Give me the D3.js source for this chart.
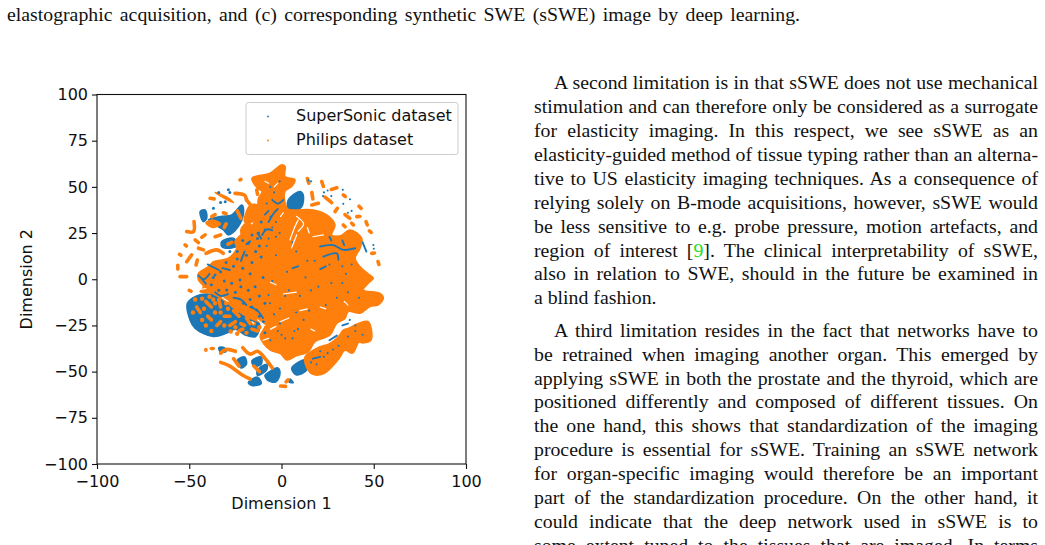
<!DOCTYPE html>
<html>
<head>
<meta charset="utf-8">
<script src="https://cdn.jsdelivr.net/npm/d3@7"></script>
<style>
html, body { margin: 0; padding: 0; background: #fff; overflow: hidden; }
</style>
</head>
<body>
<div id="page"></div>
<script>
// values, all in data units (Dimension 1, Dimension 2)
var seriesNames = ["SuperSonic dataset", "Philips dataset"];
var seriesColors = ["#1f77b4", "#ff7f0e"];
var yTickValues = [-100, -75, -50, -25, 0, 25, 50, 75, 100];
var xTickValues = [-100, -50, 0, 50, 100];

// solid patches where the SuperSonic points pile up
var supersonicRegions = [
	[[-51,-13],[-46,-9],[-40,-8],[-30,-11],[-20,-20],[-12,-24],[-14,-31],[-20,-30],[-25,-27],[-30,-29.3],[-37,-31],[-46.8,-26.6],[-49.6,-22]],
	[[3.7,43],[10,47.5],[11.8,45.6],[11,39.3],[8.2,37.5],[3.7,38.4]],
	[[-44.1,36.6],[-41.4,37.5],[-40.5,33],[-42.3,31.2]],
	[[-27,34.8],[-21.5,40.2],[-20.6,35.7],[-23.4,28.5],[-28.8,24],[-31.5,26.7],[-36,29.4],[-39.6,32.1],[-33,34]],
	[[-32.4,20.4],[-26.1,22.2],[-23.4,18.6],[-27.9,16.8],[-32.4,17.7]],
	[[5.5,-48.2],[12.8,-43.7],[13.7,-49.1],[8.2,-51.8]],
	[[-6.5,-50],[-2,-48],[-0.8,-51],[-3,-55.5],[-7,-55],[-9,-52]],
	[[-13,-49],[-8,-46],[-8,-49],[-13,-52]],
	[[-18,-56],[-13,-53],[-11,-56.5],[-16,-57.5]],
	[[-24,-44],[-20,-42],[-19,-46],[-22,-48]],
	[[-16,-44],[-11,-42],[-11,-46],[-15,-47]],
	[[-34,-37],[-31,-37],[-30,-39],[-33,-39.5]],
	[[4.6,-54],[6.4,-56],[4,-55.5]],
	[[12,-46],[16,-40],[14,-44]]
];
// the bulk of the Philips points
var philipsRegions = [
	[[-16,54.7],[-6.2,57.4],[0,61.9],[2,61],[1.9,55.6],[7.3,53.8],[5.5,50.2],[1.9,47.5],[2,41],[3.5,38],[6.4,37.5],[17.3,37.5],[24.5,34.8],[29,29.4],[27.2,24],[32,23.5],[37.1,26.7],[43.5,22.2],[42.6,16.8],[39.9,11.4],[42.6,6.8],[47,3],[49.8,0.5],[47,-2.2],[44.4,-5.8],[53.4,-7.6],[55.2,-10.3],[52.5,-13.9],[48,-14.8],[42.6,-18.4],[36.2,-17.5],[34.4,-21.2],[29.9,-23.9],[26.3,-30.2],[18.2,-33.8],[14.6,-39.2],[8,-41.5],[2.8,-43.7],[-0.8,-40.1],[-6.2,-38.3],[-11.6,-31.1],[-9,-25],[-17,-21.2],[-24.3,-16.7],[-31.5,-11.2],[-37.8,-7.6],[-44.1,-6.7],[-42.3,-4],[-45,-0.4],[-45,3.2],[-39.6,6.8],[-36.9,9.5],[-28.8,11.4],[-24.3,16.8],[-25.2,20.4],[-18.8,26.7],[-15,30.3],[-14,35.7],[-13,37.5],[-12.5,43.8],[-10.5,47.5],[-13,49.3]],
	[[12.8,-41.9],[19,-37.4],[26.3,-34.7],[30.8,-31.1],[33.5,-27.5],[36.2,-26.6],[41.7,-23.9],[47.1,-23],[48.5,-33],[44,-34.5],[42,-34],[38.5,-40],[34.4,-38.5],[30.8,-43.5],[22.7,-51.2],[16.4,-51.2],[12.8,-45.5]],
	[[-41,30.5],[-37,28],[-33,30],[-37,32]],
	[[-36,47],[-33,45],[-26,41.5],[-29,44]],
	[[-20,31],[-14,32],[-13,40],[-17,40]],
	[[-21,23],[-16,27],[-18,31],[-22,27]]
];
// thin strands and small islands of Philips points around the main body
var philipsStrands = [
	[[-33,-40],[-30,-38],[-25,-39]],
	[[-33,-45],[-28,-47],[-21,-52],[-17,-54]],
	[[-21,-37],[-17,-40.5],[-13,-39],[-8,-44],[-5,-48]],
	[[-15,-47],[-12,-50]],
	[[-26,-43],[-23,-47]],
	[[-41,-38],[-41,-38.4]],
	[[-38,-37.5],[-37,-37.5]],
	[[-47.4,31.2],[-47.7,25.8],[-51.4,25.8]],
	[[-46.8,21.3],[-45,19.8]],
	[[-43.2,22.7],[-41.4,24]],
	[[-52.3,18.6],[-51.5,18]],
	[[-45,16.8],[-42.3,15.9]],
	[[-40.9,14],[-35.1,15.9],[-31.5,14]],
	[[-48.7,13.2],[-51.4,9.5]],
	[[-55.3,13.5],[-54.5,13]],
	[[-46.3,7.7],[-45.6,10.4]],
	[[-56.2,7.5],[-56.2,5.5]],
	[[-55,1.4],[-51.4,1.4]],
	[[-50,-6],[-49,-6.5]],
	[[-38.7,43.8],[-36.5,43.5]],
	[[-25.2,46.5],[-20,45.5],[-19,43]],
	[[-22.5,53.8],[-22,54]],
	[[-13.4,48.4],[-13,46]],
	[[-31.5,36],[-30,35.5]],
	[[-37.8,33.9],[-36,35]],
	[[-19,43],[-15,38]],
	[[14,54.5],[14.8,52]],
	[[21.8,52.9],[22.7,50.2]],
	[[27,48.6],[30,49.5]],
	[[33.5,45.6],[34.6,44.8]],
	[[16.4,47],[17,43.5]],
	[[16.4,40.2],[20,41.1]],
	[[23.6,44.5],[27.2,41.5]],
	[[42,39.5],[43.2,38.4]],
	[[29,36.6],[30.3,38.4]],
	[[34.4,35],[37,33]],
	[[40.8,33.9],[42.5,34]],
	[[38,30.3],[39,29.4]],
	[[33.5,29.4],[34.5,28.4]],
	[[45.8,31.2],[46.5,29.4]],
	[[47.6,26.2],[48.6,25.4]],
	[[48.9,14],[50.4,14.2]],
	[[52.3,9.6],[52.8,8]],
	[[-0.5,-57.8],[2.2,-58]],
	[[2.5,-55.5],[3.5,-54.5]],
	// short islands lying over the SuperSonic patch, lower left
	[[-46,-15],[-44,-18]],
	[[-41,-12],[-38,-15]],
	[[-40,-20],[-38,-22]],
	[[-34,-11],[-33,-15]],
	[[-31,-20],[-28,-20]],
	[[-35,-25],[-33,-23]],
	[[-28,-25],[-25,-23]],
	[[-26,-17],[-23,-20]],
	[[-19,-21],[-17,-24]],
	[[-22,-24],[-20,-25]],
	[[-23,-28],[-21,-27]],
	[[-16,-27],[-13,-28]],
	[[-29,19],[-27,20]],
	[[-36,23],[-33,24]],
	[[-31,28],[-30,30]],
	[[-24,37],[-22,33]]
];
var philipsPoints = [
	[-43,-10.5],[-46.8,-11],[-39,-9.5],[-37,-11],[-30,-13],[-41,-25],[-38,-28],[-48,-18],[-25,-26],[-27.5,-28.3],[-24,-29.5],[-19,-29],[12,-39.5],
	[-42,-16],[-36,-18],[-33,-18],[-29,-16],[-24,-17],[-31,-25],[-43,-22],[-15,-24],[-12,-26],[-36,-13]
];
// SuperSonic points showing through the gaps in the orange
var supersonicStrands = [
	[[20.9,17.7],[28,18.5],[33.5,15.9],[39.9,16.8]],
	[[22.7,12.3],[30,14],[30.8,10.5]],
	[[26,23],[27,21]],
	[[33,21],[34,18.5]],
	[[-40,8],[-34,5]],
	[[-7,31],[-4,36],[-2,38]],
	[[-5,43],[-2,41],[1,43]],
	[[-9,35],[-7,37]],
	[[-32,6],[-28,5]],
	[[-45,2],[-42,0],[-39,3]],
	[[-43,0],[-41,-2.5]],
	[[-22,10],[-20,15]],
	[[-10.5,24],[-8,27],[-5,26.5]],
	[[6,6],[9,7]],
	[[21,5.5],[24,7]],
	[[-19,19],[-17,20.5]],
	[[44,20],[46,15]],
	[[26,-33],[30,-30.5]],
	[[17,-43],[21,-42]],
	[[33,-25],[36,-24]],
	[[-13,25],[-11,22]],
	[[-36,-7],[-33,-9],[-29,-8]],
	[[-26,-10],[-22,-11],[-19,-14]],
	[[-17,-15],[-13,-17],[-10,-21]]
];
var supersonicPoints = [
	[-36,2.3],[-27,-2.2],[-22.5,-0.4],[-14.3,-4],[-7,-8.5],[-18,-6],[-29.7,-5.8],[-20.6,-13],[-13.4,-16.7],[-0.8,-15.8],[-0.8,-23.9],[-6.2,-13],[-9.8,-23],
	[-38,-3],[-34,-6],[-25,-7],[-17,-11],[-12,-9],[-9,-13],[-12,-20],[-4,-19],[-2,-28],[-9,-29],[2,-32],[-16,-15],[-22,-4],[-31,-1],
	[-37,1],[-33,4],[-26,7],[-21,6],[-16,9],[-11,12],[-17,3],[-10,1],[-5,-1],[-30,9],[-24,11],[-14,15],[-8,18],[-12,18],[-3,13],[-19,13],
	[-21,21],[-16,24],[-13,22],[-7,22],[-3,23],[-11,31],[-6,34],[-3,31],[-5,28],[-1,25],
	[4,-6],[10,-9],[2,-9],[16,-6],[20,-4],[8,-18],[12,-22],[15,-17],[9,-27],[6,-32],
	[8,15],[14,10],[3,4],[13,1],[6,20],[18,10],
	[0,-30],[7,-28],[-6,-33],
	[24,-14],[30,-10],[36,-7],[33,-2],[27,-2],[42,-10],[35,3],
	[23,-42],[25,-40],[28,-38],[31,-36],[19,-46],[21,-39],[16,-45],[36,-31],[40,-28],[44,-30],
	[33,7],[38,8],[26,8],[-28,15],[-24,15],[37,-22],[40,-25],
	[-4,47],[-8,41],[-1,53],[-6,50],[-28,47],[-34,47],[-33,41.5],[-30.5,42],[-36.9,38.4],[-28.8,48.4],[-8.9,26.7],[-12.5,25],[-18,19.5],
	[23,47],[25,48],[27,45],[22.5,45],[33.2,48.4],[37.1,43.3],[33.5,40.8],[38,37],[36,36],[49.8,18.5],[50,16.5],[14.6,53.5],[16,53]
];
// empty spots inside the cloud where neither dataset has points
var emptyStrands = [
	[[4.6,21.3],[7.3,28.5],[9,32]],
	[[8.2,34],[12,30],[9,26]],
	[[5.5,17],[8.2,24]],
	[[14,28],[15,25]],
	[[17,23],[22.7,24]],
	[[-0.5,34],[1,36]],
	[[-6,-1.6],[-3,-3]],
	[[1,-8],[8,-7]],
	[[-0.8,-23],[4,-21]],
	[[10,-17],[14,-16]],
	[[-13,-22],[-9,-25]],
	[[-6,-27],[-3,-25.5]],
	[[-10,-33],[-7,-32]],
	[[16,-27],[18,-28]],
	[[-16,-23],[-15,-24]],
	[[-4,50],[-2,52]],
	[[-9,53],[-7,52]],
	[[-44,-5.5],[-41,-5]],
	[[-32,-10],[-29,-12]],
	[[21,-15],[24,-16]],
	[[34,-12],[36,-14]]
];

var paragraphs = [
	["A second limitation is in that sSWE does not use mechanical",
	 "stimulation and can therefore only be considered as a surrogate",
	 "for elasticity imaging. In this respect, we see sSWE as an",
	 "elasticity-guided method of tissue typing rather than an alterna-",
	 "tive to US elasticity imaging techniques. As a consequence of",
	 "relying solely on B-mode acquisitions, however, sSWE would",
	 "be less sensitive to e.g. probe pressure, motion artefacts, and",
	 "region of interest [9]. The clinical interpretability of sSWE,",
	 "also in relation to SWE, should in the future be examined in",
	 "a blind fashion."],
	["A third limitation resides in the fact that networks have to",
	 "be retrained when imaging another organ. This emerged by",
	 "applying sSWE in both the prostate and the thyroid, which are",
	 "positioned differently and composed of different tissues. On",
	 "the one hand, this shows that standardization of the imaging",
	 "procedure is essential for sSWE. Training an sSWE network",
	 "for organ-specific imaging would therefore be an important",
	 "part of the standardization procedure. On the other hand, it",
	 "could indicate that the deep network used in sSWE is to",
	 "some extent tuned to the tissues that are imaged. In terms"]
];

var width = 1045;
var height = 545;
var svg = d3.select("#page").append("svg")
	.attr("width", width)
	.attr("height", height)
	.style("display", "block");

// page text around the figure
var serif = "'Liberation Serif', serif";
var pageText = svg.append("g")
	.attr("font-family", serif)
	.attr("font-size", 19.8)
	.attr("fill", "#111");

// justified line, the last line of a paragraph stays loose
var addLine = function(str, xPos, yPos, right) {
	var t = pageText.append("text").attr("x", xPos).attr("y", yPos);
	if (str.indexOf("[9]") >= 0) {
		var parts = str.split("9");
		t.append("tspan").text(parts[0]);
		t.append("tspan").attr("fill", "#1de01d").text("9");
		t.append("tspan").text(parts[1]);
	} else {
		t.text(str);
	}
	if (right) {
		var len = t.node().getComputedTextLength();
		var gaps = str.split(" ").length - 1;
		t.style("word-spacing", ((right - xPos - len) / gaps) + "px");
	}
};

addLine("elastographic acquisition, and (c) corresponding synthetic SWE (sSWE) image by deep learning.", 7, 21, 800);

var lineStep = 23.93;
paragraphs[0].forEach(function(str, i) {
	addLine(str, i == 0 ? 554 : 534, 89 + i * lineStep, i < paragraphs[0].length - 1 ? 1038 : null);
});
paragraphs[1].forEach(function(str, i) {
	addLine(str, i == 0 ? 554 : 534, 336.7 + i * lineStep, 1038);
});

// the scatter
var x = d3.scaleLinear().domain([-100, 100]).range([97, 466]);
var y = d3.scaleLinear().domain([-100, 100]).range([464, 94.5]);

var polygon = d3.line()
	.x(function(d) { return x(d[0]); })
	.y(function(d) { return y(d[1]); })
	.curve(d3.curveCatmullRomClosed.alpha(0.5));
var strand = d3.line()
	.x(function(d) { return x(d[0]); })
	.y(function(d) { return y(d[1]); })
	.curve(d3.curveCatmullRom.alpha(0.5));

// the picture is a soft raster, a very slight blur gets the same edges
var defs = svg.append("defs");
defs.append("filter").attr("id", "soft")
	.append("feGaussianBlur").attr("stdDeviation", 0.45);

var plot = svg.append("g").attr("filter", "url(#soft)");

var drawRegions = function(data, color) {
	plot.append("g").selectAll("path")
		.data(data)
		.enter().append("path")
		.attr("d", polygon)
		.attr("fill", color)
		.attr("stroke", color)
		.attr("stroke-width", 1.5);
};
var drawStrands = function(data, color, w) {
	plot.append("g").selectAll("path")
		.data(data)
		.enter().append("path")
		.attr("d", strand)
		.attr("fill", "none")
		.attr("stroke", color)
		.attr("stroke-width", w)
		.attr("stroke-linecap", "round");
};
var drawPoints = function(data, color, r) {
	plot.append("g").selectAll("circle")
		.data(data)
		.enter().append("circle")
		.attr("cx", function(d) { return x(d[0]); })
		.attr("cy", function(d) { return y(d[1]); })
		.attr("r", r)
		.attr("fill", color);
};

drawRegions(supersonicRegions, seriesColors[0]);
drawRegions(philipsRegions, seriesColors[1]);
drawStrands(philipsStrands, seriesColors[1], 3.6);
drawPoints(philipsPoints, seriesColors[1], 2.2);
drawStrands(supersonicStrands, seriesColors[0], 1.9);
// specks are bigger on the left where more of the blue shows through
drawPoints(supersonicPoints, seriesColors[0], function(d) { return d[0] < -8 ? 1.5 : 1.05; });
drawStrands(emptyStrands, "#fff", 1.2);

// axes
var minusFormat = function(d) { return String(d).replace("-", "\u2212"); };
var sans = "'DejaVu Sans', sans-serif";
var xAxis = svg.append("g")
	.attr("transform", "translate(0," + y(-100) + ")")
	.call(d3.axisBottom(x).tickValues(xTickValues).tickSize(5).tickPadding(7).tickFormat(minusFormat));
var yAxis = svg.append("g")
	.attr("transform", "translate(" + x(-100) + ",0)")
	.call(d3.axisLeft(y).tickValues(yTickValues).tickSize(5).tickPadding(4).tickFormat(minusFormat));
[xAxis, yAxis].forEach(function(a) {
	a.attr("font-family", sans).attr("font-size", 16);
	a.selectAll("text").attr("fill", "#111");
	a.selectAll("line").attr("stroke", "#111").attr("stroke-width", 1.1);
	a.select(".domain").remove();
});
svg.append("rect")
	.attr("x", x(-100))
	.attr("y", y(100))
	.attr("width", x(100) - x(-100))
	.attr("height", y(-100) - y(100))
	.attr("fill", "none")
	.attr("stroke", "#111")
	.attr("stroke-width", 1.1);

svg.append("text")
	.attr("x", x(0))
	.attr("y", 509)
	.attr("text-anchor", "middle")
	.attr("font-family", sans)
	.attr("font-size", 16)
	.attr("fill", "#111")
	.text("Dimension 1");
svg.append("text")
	.attr("transform", "translate(32," + y(0) + ") rotate(-90)")
	.attr("text-anchor", "middle")
	.attr("font-family", sans)
	.attr("font-size", 16)
	.attr("fill", "#111")
	.text("Dimension 2");

// legend
var legend = svg.append("g");
legend.append("rect")
	.attr("x", 246)
	.attr("y", 102.5)
	.attr("width", 212)
	.attr("height", 52)
	.attr("rx", 2.5)
	.attr("fill", "#fff")
	.attr("fill-opacity", 0.8)
	.attr("stroke", "#ccc")
	.attr("stroke-width", 1);
seriesNames.forEach(function(name, i) {
	legend.append("circle")
		.attr("cx", 268)
		.attr("cy", 116.5 + i * 24)
		.attr("r", 0.9)
		.attr("fill", seriesColors[i]);
	legend.append("text")
		.attr("x", 296)
		.attr("y", 121 + i * 24)
		.attr("font-family", sans)
		.attr("font-size", 16)
		.attr("fill", "#111")
		.text(name);
});
</script>
</body>
</html>
